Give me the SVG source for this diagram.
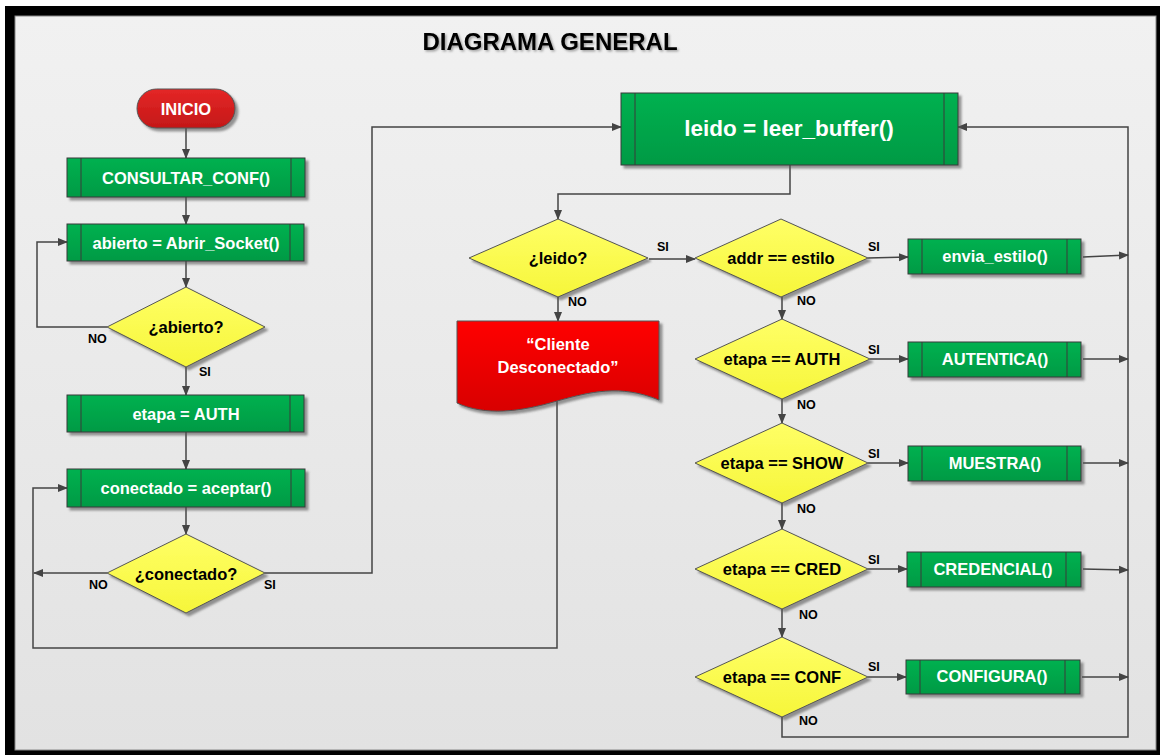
<svg xmlns="http://www.w3.org/2000/svg" width="1160" height="755" viewBox="0 0 1160 755">
<defs>
<linearGradient id="bg" x1="0" y1="0" x2="0" y2="1"><stop offset="0" stop-color="#f1f1f1"/><stop offset="1" stop-color="#e2e2e2"/></linearGradient>
<linearGradient id="gr" x1="0" y1="0" x2="0" y2="1"><stop offset="0" stop-color="#00b150"/><stop offset="1" stop-color="#009a44"/></linearGradient>
<linearGradient id="yl" x1="0" y1="0" x2="0" y2="1"><stop offset="0" stop-color="#ffff66"/><stop offset="1" stop-color="#f6f63a"/></linearGradient>
<linearGradient id="rd" x1="0" y1="0" x2="0" y2="1"><stop offset="0" stop-color="#e42626"/><stop offset="1" stop-color="#c41818"/></linearGradient>
<linearGradient id="rd2" x1="0" y1="0" x2="0" y2="1"><stop offset="0" stop-color="#ff0000"/><stop offset="1" stop-color="#d80000"/></linearGradient>
<filter id="sh" x="-10%" y="-10%" width="130%" height="140%"><feDropShadow dx="3" dy="3" stdDeviation="1" flood-color="#555" flood-opacity="0.6"/></filter>
<filter id="tsh" x="-5%" y="-20%" width="110%" height="150%"><feDropShadow dx="1.5" dy="1.5" stdDeviation="1" flood-color="#000" flood-opacity="0.35"/></filter>
<marker id="ar" markerWidth="10" markerHeight="10" refX="9" refY="5" orient="auto" markerUnits="userSpaceOnUse"><path d="M0,1 L10,5 L0,9 Z" fill="#444"/></marker>
</defs>
<style>
.box{fill:url(#gr);stroke:#3a3a3a;stroke-width:1;filter:url(#sh)}
.in{stroke:#3a3a3a;stroke-width:1}
.dia{fill:url(#yl);stroke:#555;stroke-width:1;filter:url(#sh)}
.wt{font-family:"Liberation Sans",Arial,sans-serif;font-weight:bold;font-size:16.5px;fill:#fff;text-anchor:middle}
.big{font-size:22.5px}
.bt{font-family:"Liberation Sans",Arial,sans-serif;font-weight:bold;font-size:16.5px;fill:#000;text-anchor:middle}
.lb{font-family:"Liberation Sans",Arial,sans-serif;font-weight:bold;font-size:12.5px;fill:#000}
.cn{fill:none;stroke:#444;stroke-width:1.5}
</style>
<rect x="0" y="0" width="1160" height="755" fill="#ffffff"/>
<rect x="5" y="6" width="1155" height="749" fill="#000"/>
<rect x="15" y="16" width="1141" height="734" fill="url(#bg)" stroke="#888" stroke-width="1"/>
<text x="550" y="50" font-family="Liberation Sans,Arial,sans-serif" font-weight="bold" font-size="24" text-anchor="middle" fill="#000" filter="url(#tsh)">DIAGRAMA GENERAL</text>

<g id="connectors">
<line class="cn" x1="186" y1="128" x2="186" y2="158" marker-end="url(#ar)"/>
<line class="cn" x1="186" y1="197" x2="186" y2="224" marker-end="url(#ar)"/>
<line class="cn" x1="186" y1="261" x2="186" y2="287" marker-end="url(#ar)"/>
<polyline class="cn" points="107,327 37,327 37,242 67,242" marker-end="url(#ar)"/>
<line class="cn" x1="186" y1="367" x2="186" y2="395" marker-end="url(#ar)"/>
<line class="cn" x1="186" y1="432" x2="186" y2="469" marker-end="url(#ar)"/>
<line class="cn" x1="186" y1="507" x2="186" y2="534" marker-end="url(#ar)"/>
<line class="cn" x1="107" y1="573" x2="34" y2="573" marker-end="url(#ar)"/>
<polyline class="cn" points="557,400 557,648 33,648 33,488 67,488" marker-end="url(#ar)"/>
<polyline class="cn" points="265,573 372,573 372,127 621,127" marker-end="url(#ar)"/>
<polyline class="cn" points="790,165 790,194 558,194 558,219" marker-end="url(#ar)"/>
<line class="cn" x1="558" y1="297" x2="558" y2="321" marker-end="url(#ar)"/>
<line class="cn" x1="649" y1="259" x2="695" y2="259" marker-end="url(#ar)"/>
<line class="cn" x1="868" y1="258" x2="908" y2="257" marker-end="url(#ar)"/>
<line class="cn" x1="782" y1="297" x2="782" y2="319" marker-end="url(#ar)"/>
<line class="cn" x1="782" y1="399" x2="782" y2="423" marker-end="url(#ar)"/>
<line class="cn" x1="782" y1="503" x2="782" y2="529" marker-end="url(#ar)"/>
<line class="cn" x1="782" y1="609" x2="782" y2="637" marker-end="url(#ar)"/>
<line class="cn" x1="870" y1="359" x2="908" y2="359" marker-end="url(#ar)"/>
<line class="cn" x1="868" y1="463" x2="908" y2="463" marker-end="url(#ar)"/>
<line class="cn" x1="868" y1="569" x2="907" y2="569" marker-end="url(#ar)"/>
<line class="cn" x1="868" y1="677" x2="906" y2="677" marker-end="url(#ar)"/>
<line class="cn" x1="1083" y1="257" x2="1128" y2="255" marker-end="url(#ar)"/>
<line class="cn" x1="1083" y1="359" x2="1128" y2="359" marker-end="url(#ar)"/>
<line class="cn" x1="1083" y1="463" x2="1128" y2="463" marker-end="url(#ar)"/>
<line class="cn" x1="1083" y1="569" x2="1128" y2="570" marker-end="url(#ar)"/>
<line class="cn" x1="1082" y1="677" x2="1128" y2="677" marker-end="url(#ar)"/>
<polyline class="cn" points="782,717 782,737 1128,737 1128,127 958,127" marker-end="url(#ar)"/>
</g>

<g id="inicio">
<rect x="137" y="89" width="98" height="39" rx="19.5" fill="url(#rd)" stroke="#555" filter="url(#sh)"/>
<text class="wt" x="186" y="115">INICIO</text>
</g>
<g id="consultar">
<rect class="box" x="67" y="158" width="238" height="39"/>
<line class="in" x1="81" y1="158" x2="81" y2="197"/><line class="in" x1="291" y1="158" x2="291" y2="197"/>
<text class="wt" x="186" y="184">CONSULTAR_CONF()</text>
</g>
<g id="abrir">
<rect class="box" x="67" y="224" width="237" height="37"/>
<line class="in" x1="81" y1="224" x2="81" y2="261"/><line class="in" x1="290" y1="224" x2="290" y2="261"/>
<text class="wt" x="186" y="249">abierto = Abrir_Socket()</text>
</g>
<g id="q-abierto">
<polygon class="dia" points="186,287 265,327 186,367 107,327"/>
<text class="bt" x="186" y="333">¿abierto?</text>
<text class="lb" x="88" y="343">NO</text>
<text class="lb" x="199" y="376">SI</text>
</g>
<g id="etapa">
<rect class="box" x="67" y="395" width="237" height="37"/>
<line class="in" x1="81" y1="395" x2="81" y2="432"/><line class="in" x1="290" y1="395" x2="290" y2="432"/>
<text class="wt" x="186" y="420">etapa = AUTH</text>
</g>
<g id="conectado">
<rect class="box" x="67" y="469" width="238" height="38"/>
<line class="in" x1="81" y1="469" x2="81" y2="507"/><line class="in" x1="291" y1="469" x2="291" y2="507"/>
<text class="wt" x="186" y="494">conectado = aceptar()</text>
</g>
<g id="q-conectado">
<polygon class="dia" points="186,534 265,573 186,613 107,573"/>
<text class="bt" x="186" y="580">¿conectado?</text>
<text class="lb" x="89" y="589">NO</text>
<text class="lb" x="264" y="589">SI</text>
</g>
<g id="leer">
<rect class="box" x="621" y="93" width="337" height="72"/>
<line class="in" x1="635" y1="93" x2="635" y2="165"/><line class="in" x1="944" y1="93" x2="944" y2="165"/>
<text class="wt big" x="789" y="136">leido = leer_buffer()</text>
</g>
<g id="q-leido">
<polygon class="dia" points="558,219 648,258 558,297 469,258"/>
<text class="bt" x="558" y="264">¿leido?</text>
<text class="lb" x="657" y="251">SI</text>
<text class="lb" x="568" y="306">NO</text>
</g>
<g id="desconectado">
<path d="M457,321 H659 V400 C620,384 590,392 557,401 C520,412 485,416 457,403 Z" fill="url(#rd2)" stroke="#555" filter="url(#sh)"/>
<text class="wt" x="558" y="350">“Cliente</text>
<text class="wt" x="558" y="373">Desconectado”</text>
</g>
<g id="q-addr">
<polygon class="dia" points="781,219 868,258 781,297 695,258"/>
<text class="bt" x="781" y="264">addr == estilo</text>
<text class="lb" x="868" y="251">SI</text>
<text class="lb" x="797" y="305">NO</text>
</g>
<g id="envia">
<rect class="box" x="908" y="239" width="173" height="35"/>
<line class="in" x1="922" y1="239" x2="922" y2="274"/><line class="in" x1="1067" y1="239" x2="1067" y2="274"/>
<text class="wt" x="995" y="262">envia_estilo()</text>
</g>
<g id="q-auth">
<polygon class="dia" points="782,319 870,359 782,399 695,359"/>
<text class="bt" x="782" y="365">etapa == AUTH</text>
<text class="lb" x="868" y="354">SI</text>
<text class="lb" x="797" y="409">NO</text>
</g>
<g id="autentica">
<rect class="box" x="908" y="342" width="173" height="35"/>
<line class="in" x1="922" y1="342" x2="922" y2="377"/><line class="in" x1="1067" y1="342" x2="1067" y2="377"/>
<text class="wt" x="995" y="365">AUTENTICA()</text>
</g>
<g id="q-show">
<polygon class="dia" points="782,423 868,463 782,503 695,463"/>
<text class="bt" x="782" y="469">etapa == SHOW</text>
<text class="lb" x="868" y="458">SI</text>
<text class="lb" x="797" y="513">NO</text>
</g>
<g id="muestra">
<rect class="box" x="908" y="446" width="173" height="35"/>
<line class="in" x1="922" y1="446" x2="922" y2="481"/><line class="in" x1="1067" y1="446" x2="1067" y2="481"/>
<text class="wt" x="995" y="469">MUESTRA()</text>
</g>
<g id="q-cred">
<polygon class="dia" points="782,529 868,569 782,609 695,569"/>
<text class="bt" x="782" y="575">etapa == CRED</text>
<text class="lb" x="868" y="564">SI</text>
<text class="lb" x="799" y="619">NO</text>
</g>
<g id="credencial">
<rect class="box" x="907" y="552" width="174" height="35"/>
<line class="in" x1="921" y1="552" x2="921" y2="587"/><line class="in" x1="1066" y1="552" x2="1066" y2="587"/>
<text class="wt" x="993" y="575">CREDENCIAL()</text>
</g>
<g id="q-conf">
<polygon class="dia" points="782,637 868,677 782,717 695,677"/>
<text class="bt" x="782" y="683">etapa == CONF</text>
<text class="lb" x="868" y="671">SI</text>
<text class="lb" x="799" y="725">NO</text>
</g>
<g id="configura">
<rect class="box" x="906" y="660" width="174" height="34"/>
<line class="in" x1="920" y1="660" x2="920" y2="694"/><line class="in" x1="1065" y1="660" x2="1065" y2="694"/>
<text class="wt" x="992" y="682">CONFIGURA()</text>
</g>
</svg>
